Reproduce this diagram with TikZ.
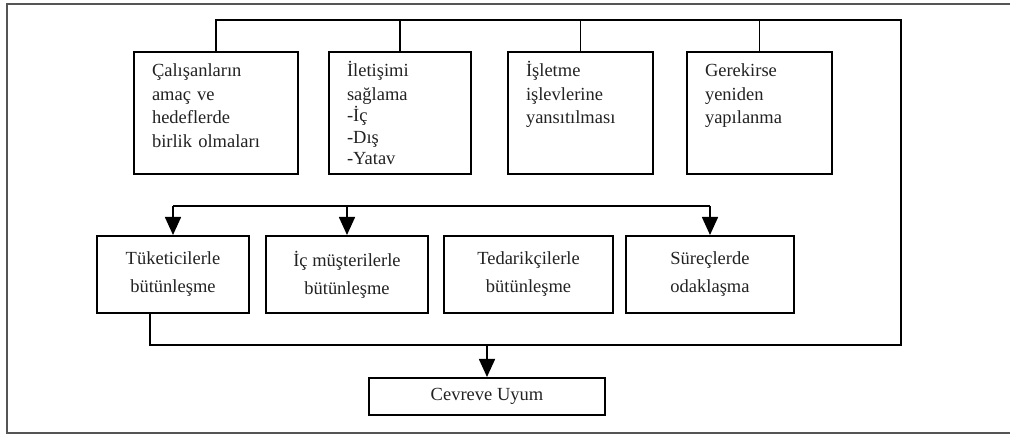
\documentclass[tikz,border=0pt]{standalone}
\usepackage{fontspec}
\setmainfont{Liberation Serif}
\usetikzlibrary{calc,arrows.meta}
\definecolor{ink}{HTML}{222222}
\definecolor{framegray}{HTML}{555555}

\begin{document}
\begin{tikzpicture}[
        x=1pt, y=-1pt,
        topbox/.style={draw, line width=2pt, inner xsep=18pt, inner ysep=0pt, align=left,
                text height=25pt, text depth=97pt, text=ink,
                font=\fontsize{18.5}{23.5}\selectfont},
        midbox/.style={draw, line width=2pt, minimum height=77pt, align=center, text=ink,
                font=\fontsize{18.5}{28}\selectfont},
        bus/.style={line width=1.6pt},
        arr/.style={line width=1.6pt, -{Triangle[length=18pt,width=16pt]}},
    ]
    \useasboundingbox (0,0) rectangle (1010,435);

    % Frame
    \draw[framegray, line width=1.3pt] (1010,4) -- (7,4) -- (7,433) -- (1010,433);

    % Row 1: upper boxes
    \node[topbox, text width=128pt] (cal) at (216,113) {Çalışanların\\amaç ve\\hedeflerde\\birlik olmaları};
    \node[topbox, text width=106pt] (ilet) at (400,113) {İletişimi\\sağlama\\[-2pt]-İç\\[-2pt]-Dış\\[-2pt]-Yatav};
    \node[topbox, text width=109pt] (isl) at (580.5,113) {İşletme\\işlevlerine\\yansıtılması};
    \node[topbox, text width=109pt] (yen) at (759.5,113) {Gerekirse\\yeniden\\yapılanma};

    % Row 2: integration boxes
    \node[midbox, minimum width=152pt] (tuk) at (173,274.5) {Tüketicilerle\\bütünleşme};
    \node[midbox, minimum width=162pt] (ic) at (347,274.5) {İç müşterilerle\\bütünleşme};
    \node[midbox, minimum width=169pt] (ted) at (528.5,274.5) {Tedarikçilerle\\bütünleşme};
    \node[midbox, minimum width=168pt] (sur) at (710,274.5) {Süreçlerde\\odaklaşma};

    % Row 3: result
    \node[midbox, minimum width=236pt, minimum height=37pt] (uyum) at (487,396.5) {Cevreve Uyum};

    % Loop round the right side
    \coordinate (tr) at (901,20);
    \coordinate (br) at (901,345);
    \coordinate (mb) at (0,206);
    \draw[bus] (cal.north) |- (tr) -- (br) -| ($(tuk.south west)!0.35!(tuk.south east)$);
    \foreach \n in {ilet,isl,yen} \draw[bus] (\n.north) -- (\n.north |- tr);

    % Middle bus
    \draw[bus] (tuk.north |- mb) -- (sur.north |- mb);
    \foreach \n in {tuk,ic,sur} \draw[arr] (\n.north |- mb) -- (\n.north);
    \draw[arr] (uyum.north |- br) -- (uyum.north);
\end{tikzpicture}
\end{document}
